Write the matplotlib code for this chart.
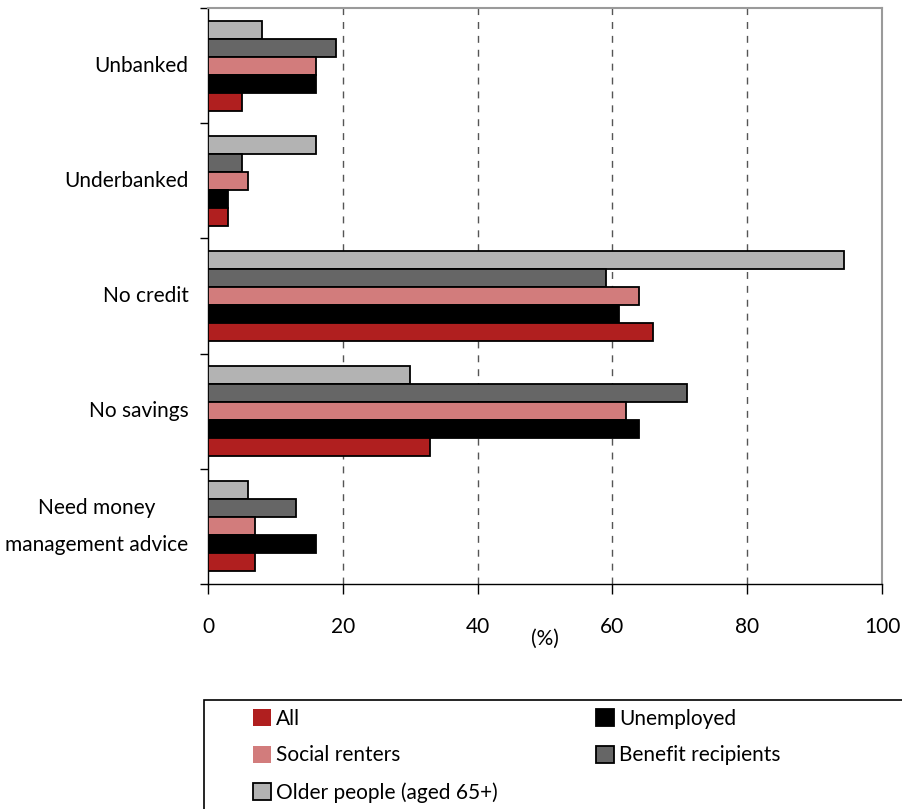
import numpy as np
import matplotlib
matplotlib.use('Agg')
import matplotlib.pyplot as plt
from matplotlib.patches import Patch, Rectangle

plt.rcParams['font.family'] = ['Lato', 'DejaVu Sans']

categories = ['Unbanked', 'Underbanked', 'No credit', 'No savings', 'Need money\nmanagement advice']
series = ['Older people (aged 65+)', 'Benefit recipients', 'Social renters', 'Unemployed', 'All']
older = [8, 16, 94.4, 30, 6]
benefit = [19, 5, 59, 71, 13]
social = [16, 6, 64, 62, 7]
unemployed = [16, 3, 61, 64, 16]
all_people = [5, 3, 66, 33, 7]

values = [older, benefit, social, unemployed, all_people]
colors = ['#b3b3b3', '#666666', '#d27c7c', '#000000', '#b01f1f']
fs = 15

fig = plt.figure(figsize=(9.02, 8.09), dpi=100)
ax = fig.add_axes([208 / 902, 1 - 584 / 809, 674 / 902, 576 / 809])

y = np.arange(len(categories))
h = 0.156
for i, (vals, col) in enumerate(zip(values, colors)):
    ax.barh(y + (i - 2) * h, vals, height=h, color=col, edgecolor='black',
            linewidth=1.3, zorder=3)

ax.set_xlim(0, 100)
ax.set_ylim(len(categories) - 0.5, -0.5)
ax.set_xticks(range(0, 101, 20))
ax.set_yticks(y)
ax.set_yticklabels(categories, fontsize=fs)
for lab in ax.get_yticklabels():
    lab.set_multialignment('center')
    lab.set_linespacing(2.1)
    lab.set_va('center')
ax.set_yticks(np.arange(-0.5, len(categories), 1), minor=True)
ax.tick_params(axis='y', which='major', length=0, pad=14)
ax.tick_params(axis='y', which='minor', length=6, direction='out', width=1)
ax.tick_params(axis='x', length=7, direction='out', width=1, pad=17, labelsize=fs)

for v in [20, 40, 60, 80]:
    ax.axvline(v, color='#555555', linestyle=(0, (5, 5)), linewidth=1, zorder=1)

for s in ['top', 'right']:
    ax.spines[s].set_color('#9a9a9a')
    ax.spines[s].set_linewidth(1.5)
for s in ['left', 'bottom']:
    ax.spines[s].set_color('black')
    ax.spines[s].set_linewidth(1)

ax.set_xlabel('(%)', fontsize=fs)
ax.xaxis.set_label_coords(0.5, -0.078)
ax.xaxis.label.set_va('top')

# legend box (runs past the bottom and right edge, as in the original)
fig.patches.append(Rectangle((204 / 902, -0.02), 0.79, (809 - 700) / 809 + 0.02,
                             transform=fig.transFigure, facecolor='none',
                             edgecolor='black', linewidth=1.2))

col1 = [('All', '#b01f1f', 'none'), ('Social renters', '#d27c7c', 'none'),
        ('Older people (aged 65+)', '#b3b3b3', 'black')]
col2 = [('Unemployed', '#000000', 'black'), ('Benefit recipients', '#666666', 'black')]
for items, x0 in [(col1, 253), (col2, 596)]:
    hs = [Patch(facecolor=c, edgecolor=e, linewidth=1.3) for _, c, e in items]
    fig.legend(hs, [t for t, _, _ in items], loc='upper left',
               bbox_to_anchor=(x0 / 902, 1 - 709 / 809), fontsize=fs,
               frameon=False, borderpad=0, borderaxespad=0,
               handlelength=0.87, handleheight=0.87, handletextpad=0.25,
               labelspacing=0.79)

fig.savefig('out.png', dpi=100)
